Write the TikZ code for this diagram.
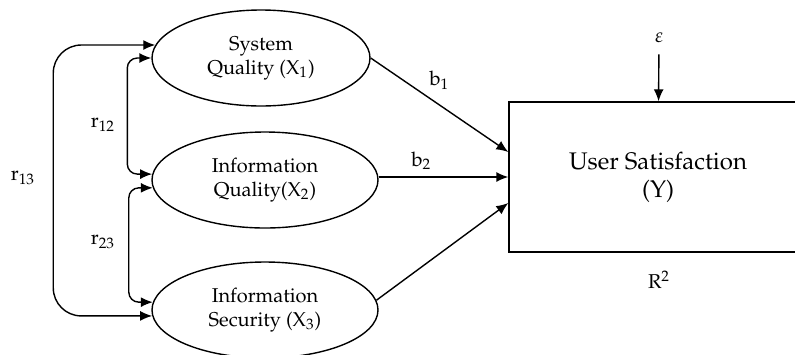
\documentclass[tikz,border=0pt]{standalone}
\usepackage[T1]{fontenc}
\usepackage{mathpazo}
\usepackage{tikz}
\usetikzlibrary{arrows.meta,calc,shapes.geometric}

\begin{document}
\begin{tikzpicture}[x=0.5pt,y=-0.5pt,line width=0.7pt,>={Latex[length=6pt,width=5pt]},
  var/.style={draw,ellipse,minimum height=48pt,inner sep=0pt,align=center},
  outcome/.style={draw,minimum width=149pt,minimum height=75pt,align=center,font=\large}]
  \useasboundingbox (0,0) rectangle (795,354);
  \draw (261,58) node[var, minimum width=109pt](x1){System\\Quality (X$_1$)};
  \draw (265,180) node[var, minimum width=113pt](x2){Information\\Quality(X$_2$)};
  \draw (265,310) node[var, minimum width=113pt](x3){Information\\Security (X$_3$)};
  \draw (658,177) node[outcome](y){User Satisfaction\\(Y)};
  \draw (659,38) node(e){$\varepsilon$};
  \draw (659,280) node(r2){R$^2$};
  \coordinate (y1) at ($(y.west)+(0,-25)$);
  \coordinate (y2) at (y.west);
  \coordinate (y3) at ($(y.west)+(0,26)$);
  % paths into Y
  \path[->] (e) edge[shorten <=2pt] (y);
  \path[->] (x1.east) edge node[midway, above=4pt]{b$_1$}(y1);
  \path[->] (x2.east |- y2) edge node[pos=.33, above]{b$_2$}(y2);
  \path[->] (x3.5) edge (y3);
  % correlations
  \draw[<->, rounded corners=5pt] (x1.180) -- ++(-24,0) |- (x2.177);
  \draw[<->, rounded corners=5pt] (x2.184) -- ++(-24,0) |- (x3.176);
  \draw[<->, rounded corners=14pt] (x1.173) -- ++(-102,0) |- (x3.183);
  \draw (103,125) node{r$_{12}$};
  \draw (103,242) node{r$_{23}$};
  \draw (23,178) node{r$_{13}$};
\end{tikzpicture}
\end{document}
